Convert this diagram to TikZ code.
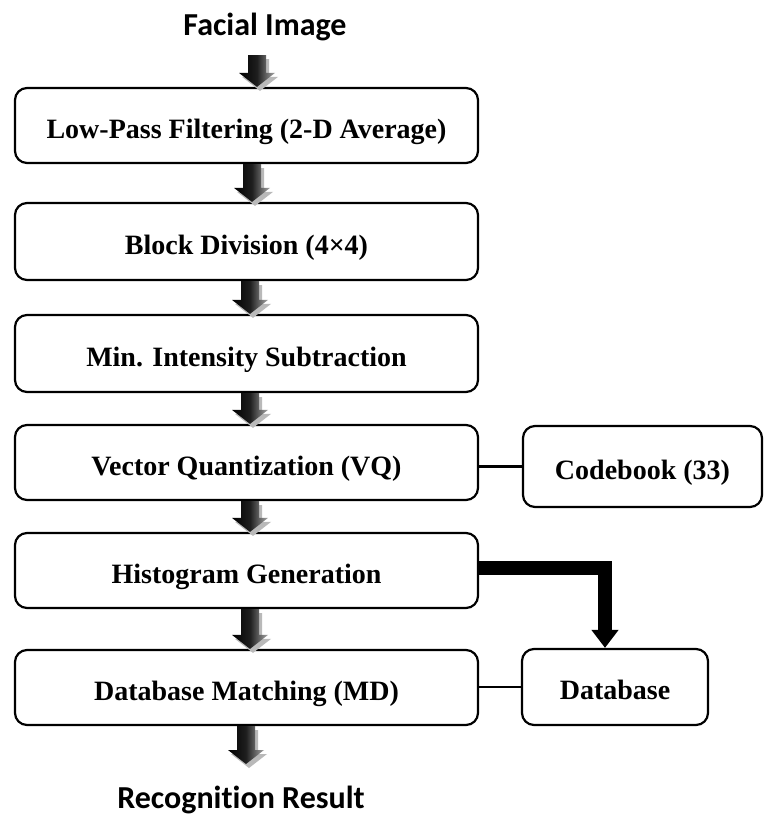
\documentclass[tikz,border=0pt]{standalone}
\usepackage{fontspec}
\setmainfont{Liberation Serif}
\newfontfamily\headfont[Ligatures=NoCommon]{Carlito}
\usetikzlibrary{arrows.meta,calc}
\tikzset{
  procbox/.style={draw=black, line width=2.2pt, rounded corners=12pt, fill=white,
    minimum width=463pt, minimum height=75pt, inner sep=0pt,
    text height=25pt, text depth=0pt,
    font=\fontsize{28}{32}\selectfont\bfseries},
  sidebox/.style={procbox, minimum width=239pt, minimum height=81pt},
  headtext/.style={font=\headfont\fontsize{32}{36}\selectfont\bfseries, inner sep=0pt},
  link/.style={line width=2.2pt},
  bigarrow/.style={line width=14pt, -{Triangle[width=26pt,length=18pt]}},
}
\newcommand\barrow[2]{%
  \path #1 coordinate (bs) #2 coordinate (be);
  \fill[gray!55] let \p1=(bs), \p2=(be) in
    (\x1-9pt+3pt,\y1-4pt) -- (\x1+9pt+3pt,\y1-4pt) -- (\x1+9pt+3pt,\y2+14pt-4pt) -- (\x1+18pt+3pt,\y2+14pt-4pt)
    -- (\x1+3pt,\y2-4pt) -- (\x1-18pt+3pt,\y2+14pt-4pt) -- (\x1-9pt+3pt,\y2+14pt-4pt) -- cycle;
  \shade[left color=black, right color=gray!70, middle color=black!88] let \p1=(bs), \p2=(be) in
    (\x1-9pt,\y1) -- (\x1+9pt,\y1) -- (\x1+9pt,\y2+14pt) -- (\x1+18pt,\y2+14pt)
    -- (\x1,\y2) -- (\x1-18pt,\y2+14pt) -- (\x1-9pt,\y2+14pt) -- cycle;
}
\begin{document}
\begin{tikzpicture}[x=1pt,y=-1pt]
\useasboundingbox[fill=white] (0,0) rectangle (767,817);

\node[headtext] (t1) at (265,27) {Facial Image};
\node[headtext] (t2) at (241,800) {Recognition Result};

\node[procbox, minimum height=75pt] (b1) at (246.5,125.5) {Low-Pass Filtering (2-D Average)};
\node[procbox, minimum height=77pt] (b2) at (246.5,241.5) {Block Division (4×4)};
\node[procbox, minimum height=77pt] (b3) at (246.5,353.5) {Min. Intensity Subtraction};
\node[procbox, minimum height=75pt] (b4) at (246.5,462.5) {Vector Quantization (VQ)};
\node[procbox, minimum height=75pt] (b5) at (246.5,570.5) {Histogram Generation};
\node[procbox, minimum height=75pt] (b6) at (246.5,687.5) {Database Matching (MD)};

\node[sidebox] (cb) at (642.5,466.5) {Codebook (33)};
\node[sidebox, minimum width=186pt, minimum height=76pt] (db) at (615,687) {Database};

\coordinate (a1s) at (257,55);
\coordinate (a7e) at (246,764);

\barrow{(a1s)}{(b1.north)}
\barrow{([xshift=5.5pt]b1.south)}{(b2.north)}
\barrow{([xshift=3.5pt]b2.south)}{(b3.north)}
\barrow{([xshift=3.5pt]b3.south)}{(b4.north)}
\barrow{([xshift=3.5pt]b4.south)}{(b5.north)}
\barrow{([xshift=3.5pt]b5.south)}{(b6.north)}
\barrow{([xshift=-0.5pt]b6.south)}{(a7e)}

\draw[link] (b4.east |- cb.west) -- (cb.west);
\draw[link] (b6.east |- db.west) -- (db.west);

\draw[bigarrow] ([yshift=2.5pt]b5.east) -| ([xshift=-10pt]db.north);
\end{tikzpicture}
\end{document}
